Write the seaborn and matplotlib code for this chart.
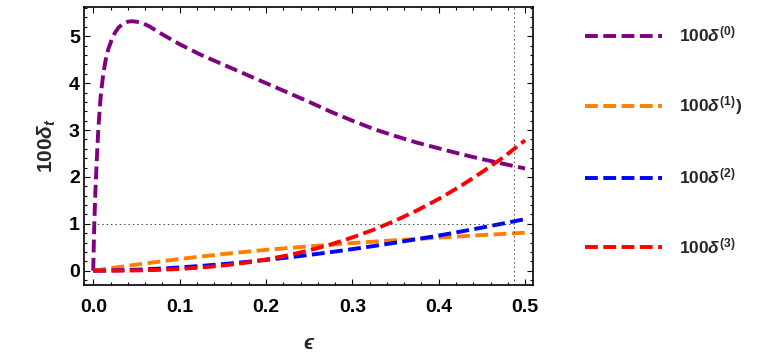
import numpy as np
import pandas as pd
import matplotlib
matplotlib.use("Agg")
import matplotlib.pyplot as plt
from matplotlib.ticker import MultipleLocator
import seaborn as sns

# ---- data ----
eps_d0 = [0.0, 0.0005, 0.0012, 0.0025, 0.0039, 0.0058, 0.0075, 0.0089, 0.0115, 0.0143,
          0.0175, 0.0213, 0.025, 0.029, 0.034, 0.04, 0.045, 0.05, 0.057, 0.065,
          0.08, 0.1, 0.125, 0.15, 0.175, 0.2, 0.225, 0.25, 0.275, 0.3,
          0.325, 0.35, 0.375, 0.4, 0.425, 0.45, 0.475, 0.5]
d0 = [0.0, 0.45, 1.0, 1.7, 2.29, 3.0, 3.45, 3.78, 4.18, 4.49,
      4.73, 4.92, 5.07, 5.18, 5.26, 5.31, 5.32, 5.31, 5.28, 5.21,
      5.04, 4.83, 4.6, 4.4, 4.2, 4.0, 3.8, 3.6, 3.39, 3.2,
      3.02, 2.87, 2.73, 2.61, 2.49, 2.38, 2.28, 2.18]

eps_d1 = [0.0, 0.05, 0.1, 0.15, 0.2, 0.25, 0.3, 0.35, 0.4, 0.45, 0.5]
d1 = [0.0, 0.13, 0.25, 0.355, 0.445, 0.52, 0.59, 0.65, 0.705, 0.76, 0.81]

eps_d = [0.0, 0.025, 0.05, 0.075, 0.1, 0.125, 0.15, 0.175, 0.2, 0.225, 0.25,
         0.275, 0.3, 0.325, 0.35, 0.375, 0.4, 0.425, 0.45, 0.475, 0.5]
d2 = [0.0, 0.007, 0.021, 0.043, 0.07, 0.103, 0.14, 0.183, 0.23, 0.281, 0.336,
      0.396, 0.46, 0.527, 0.598, 0.673, 0.75, 0.833, 0.919, 1.008, 1.1]
d3 = [0.0, 0.001, 0.006, 0.017, 0.037, 0.068, 0.11, 0.167, 0.24, 0.327, 0.434,
      0.56, 0.71, 0.876, 1.07, 1.286, 1.53, 1.8, 2.1, 2.42, 2.78]

labels = [r"$100\delta^{(0)}$", r"$100\delta^{(1)}$)", r"$100\delta^{(2)}$", r"$100\delta^{(3)}$"]
colors = ["#800080", "#FF8000", "#0000FF", "#FF0000"]
x_ticks = [0.0, 0.1, 0.2, 0.3, 0.4, 0.5]
y_ticks = [0, 1, 2, 3, 4, 5]
eps_mark = 0.4876
y_mark = 1.0

sns.set_theme(style="ticks")
plt.rcParams['font.family'] = ['Liberation Sans', 'DejaVu Sans']
plt.rcParams['font.weight'] = 'bold'
plt.rcParams['mathtext.fontset'] = 'custom'
plt.rcParams['mathtext.rm'] = 'Liberation Sans:bold'
plt.rcParams['mathtext.it'] = 'Liberation Sans:italic:bold'
plt.rcParams['mathtext.bf'] = 'Liberation Sans:bold'
plt.rcParams['mathtext.sf'] = 'Liberation Sans:bold'

fig = plt.figure(figsize=(7.63, 3.56), dpi=100)
ax = fig.add_axes([0.110, 0.1994, 0.589, 0.7818])

series = [(eps_d0, d0), (eps_d1, d1), (eps_d, d2), (eps_d, d3)]
dash = (0, (3.3, 1.4))
for (xs, ys), c, lab in zip(series, colors, labels):
    sns.lineplot(x=xs, y=ys, ax=ax, color=c, lw=2.8, linestyle=dash, label=lab)

# reference dotted lines
ax.plot([0, eps_mark], [y_mark, y_mark], color="#444444", lw=0.7, linestyle=(0, (1.5, 3)))
ax.axvline(eps_mark, color="#444444", lw=0.7, linestyle=(0, (1.5, 3)))

ax.set_xlim(-0.0108, 0.5096)
ax.set_ylim(-0.305, 5.63)
ax.set_xticks(x_ticks)
ax.set_xticklabels([f"{v:.1f}" for v in x_ticks])
ax.set_yticks(y_ticks)
ax.xaxis.set_minor_locator(MultipleLocator(0.02))
ax.yaxis.set_minor_locator(MultipleLocator(0.2))
ax.tick_params(which="both", direction="in", top=True, right=True, colors="black",
               labelsize=14, width=0.8)
ax.tick_params(which="major", length=4.5)
ax.tick_params(which="minor", length=2.5)
ax.tick_params(axis="x", which="major", pad=10)
ax.tick_params(axis="y", which="major", pad=3)
for lab in ax.get_xticklabels() + ax.get_yticklabels():
    lab.set_fontweight("bold")
for sp in ax.spines.values():
    sp.set_color("black")
    sp.set_linewidth(1.2)

ax.set_xlabel("ϵ", fontsize=15, fontweight="bold", fontstyle="italic",
              family=['Liberation Sans', 'DejaVu Sans'], labelpad=13)
ax.set_ylabel(r"$100\delta_t$", fontsize=15, labelpad=8)

h, l = ax.get_legend_handles_labels()
ax.legend(h, l, loc="upper left", bbox_to_anchor=(0.7465, 0.974), bbox_transform=fig.transFigure,
          frameon=False, fontsize=12.5, handlelength=4.4, handletextpad=1.0,
          labelspacing=2.86)

fig.savefig("out.png", dpi=100)
